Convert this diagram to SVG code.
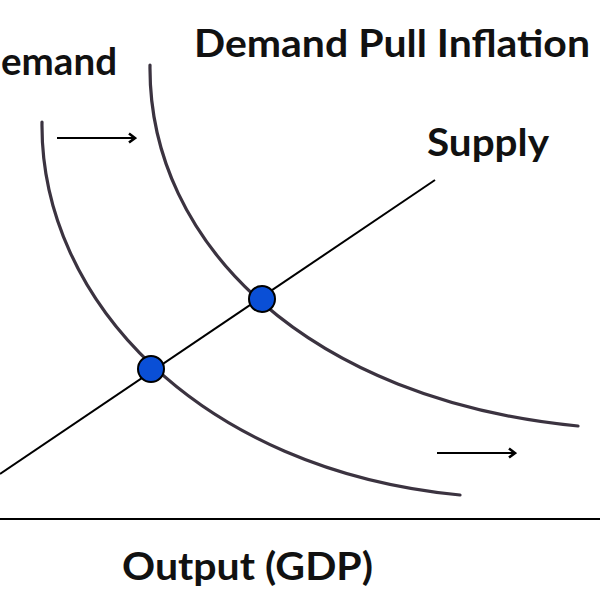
<svg xmlns="http://www.w3.org/2000/svg" width="600" height="600" viewBox="0 0 600 600">
<style>
.lbl{font-family:Lato,"Open Sans","Liberation Sans",sans-serif;font-weight:bold;fill:#111}
.curve{fill:none;stroke:#3b3340;stroke-width:3.2;stroke-linecap:round}
.ln{fill:none;stroke:#000;stroke-width:2}
.dot{fill:#0a4fd6;stroke:#000;stroke-width:2}
.arr{fill:none;stroke:#000;stroke-width:2.2}
</style>
<defs>
<marker id="ah" viewBox="0 0 12 12" refX="10" refY="6" markerWidth="12" markerHeight="12" orient="auto" markerUnits="userSpaceOnUse">
<path d="M4,1.5 L10,6 L4,10.5" fill="none" stroke="#000" stroke-width="2.6"/>
</marker>
</defs>
<rect width="600" height="600" fill="#fff"/>
<g id="connectors">
<line class="ln" x1="0" y1="519" x2="600" y2="519"/>
<line id="supply" class="ln" x1="0" y1="474" x2="435" y2="180"/>
<path id="demand1" class="curve" d="M42,122 C40,300 200,470 460,495"/>
<path id="demand2" class="curve" d="M150,65 C148,245 310,400 578,426"/>
<line class="arr" x1="57" y1="138" x2="135" y2="138" marker-end="url(#ah)"/>
<line class="arr" x1="437" y1="453" x2="515" y2="453" marker-end="url(#ah)"/>
</g>
<g id="eq1"><circle class="dot" cx="151" cy="369" r="13"/></g>
<g id="eq2"><circle class="dot" cx="262" cy="299" r="13"/></g>
<g id="labels">
<text class="lbl" x="1" y="75" font-size="38" textLength="116" lengthAdjust="spacingAndGlyphs">emand</text>
<text class="lbl" x="194" y="57" font-size="38" textLength="396" lengthAdjust="spacingAndGlyphs">Demand Pull Inflation</text>
<text class="lbl" x="427" y="156" font-size="38" textLength="122" lengthAdjust="spacingAndGlyphs">Supply</text>
<text class="lbl" x="122" y="580" font-size="38" textLength="251" lengthAdjust="spacingAndGlyphs">Output (GDP)</text>
</g>
</svg>
